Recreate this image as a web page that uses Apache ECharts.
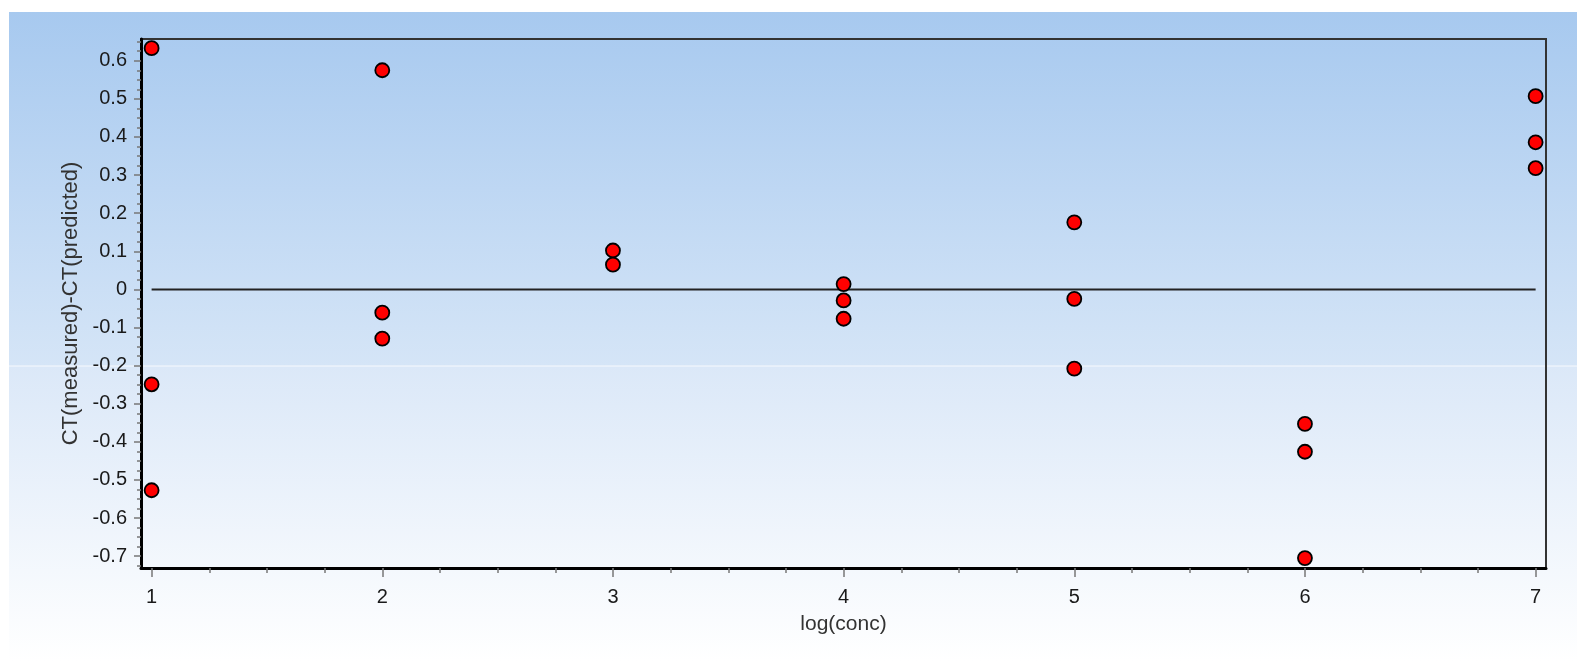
<!DOCTYPE html>
<html>
<head>
<meta charset="utf-8">
<script src="https://cdn.jsdelivr.net/npm/echarts@6/dist/echarts.min.js"></script>
<style>
html,body{margin:0;padding:0;background:#fff;}
#chart{width:1577px;height:661px;}
</style>
</head>
<body>
<div id="chart"></div>
<script>
// ---- data ----
var logConc   = [1, 1, 1, 2, 2, 2, 3, 3, 4, 4, 4, 5, 5, 5, 6, 6, 6, 7, 7, 7];
var residuals = [0.633, -0.249, -0.527, 0.575, -0.061, -0.129, 0.102, 0.065, 0.014, -0.029, -0.077,
                 0.176, -0.025, -0.208, -0.353, -0.426, -0.705, 0.507, 0.386, 0.318];
var zeroLineX = [1, 7];
var xTickLabels = [1, 2, 3, 4, 5, 6, 7];
var yTickLabels = [0.6, 0.5, 0.4, 0.3, 0.2, 0.1, 0, -0.1, -0.2, -0.3, -0.4, -0.5, -0.6, -0.7];

var X_MIN = 0.954, X_MAX = 7.045, Y_MIN = -0.731, Y_MAX = 0.657;

// minor tick positions (quarters between major ticks)
var xMinor = [];
for (var i = 4; i <= 28; i++) { if (i % 4 !== 0) xMinor.push(i / 4); }
var yMinor = [];
for (var k = -29; k <= 26; k++) { if (k % 4 !== 0) yMinor.push(+(k * 0.025).toFixed(4)); }

var pts = logConc.map(function (x, i) { return [x, residuals[i]]; });
var FONT = 'Liberation Sans, Arial, sans-serif';

var chart = echarts.init(document.getElementById('chart'), null, {renderer: 'canvas'});
chart.setOption({
  animation: false,
  backgroundColor: '#ffffff',
  graphic: [
    {type: 'rect', z: -100, silent: true, shape: {x: 9, y: 12, width: 1568, height: 354},
     style: {fill: new echarts.graphic.LinearGradient(0, 0, 0, 1, [
       {offset: 0, color: '#a7c9ef'}, {offset: 1, color: '#d5e5f7'}])}},
    {type: 'rect', z: -100, silent: true, shape: {x: 9, y: 366, width: 1568, height: 295},
     style: {fill: new echarts.graphic.LinearGradient(0, 0, 0, 1, [
       {offset: 0, color: '#dbe8f8'}, {offset: 1, color: '#ffffff'}])}},
    {type: 'rect', z: -99, silent: true, shape: {x: 9, y: 365.5, width: 1568, height: 1},
     style: {fill: 'rgba(255,255,255,0.8)'}}
  ],
  grid: {left: 141, top: 39, right: 31, bottom: 93, show: true,
         borderColor: '#333', borderWidth: 2, backgroundColor: 'transparent'},
  xAxis: [
    {type: 'value', min: X_MIN, max: X_MAX, position: 'bottom',
     axisLine: {show: true, onZero: false, lineStyle: {color: '#000', width: 3}},
     axisTick: {show: true, customValues: xTickLabels, length: 9, lineStyle: {color: '#777', width: 1.5}},
     axisLabel: {customValues: xTickLabels, margin: 19, fontSize: 20, color: '#1a1a1a', fontFamily: FONT},
     splitLine: {show: false},
     name: 'log(conc)', nameLocation: 'middle', nameGap: 46,
     nameTextStyle: {fontSize: 21, color: '#333', fontFamily: FONT}},
    {type: 'value', min: X_MIN, max: X_MAX, position: 'bottom',
     axisLine: {show: false, onZero: false},
     axisTick: {show: true, customValues: xMinor, length: 5, lineStyle: {color: '#777', width: 1.5}},
     axisLabel: {show: false}, splitLine: {show: false}}
  ],
  yAxis: [
    {type: 'value', min: Y_MIN, max: Y_MAX, position: 'left',
     axisLine: {show: true, onZero: false, lineStyle: {color: '#000', width: 3}},
     axisTick: {show: true, customValues: yTickLabels, length: 7, lineStyle: {color: '#777', width: 1.5}},
     axisLabel: {customValues: yTickLabels, margin: 14, fontSize: 20, color: '#1a1a1a', fontFamily: FONT,
                 formatter: function (v) { return Math.abs(v) < 1e-9 ? '0' : String(+v.toFixed(1)); }},
     splitLine: {show: false},
     name: 'CT(measured)-CT(predicted)', nameLocation: 'middle', nameGap: 59,
     nameTextStyle: {fontSize: 22, color: '#333', fontFamily: FONT}},
    {type: 'value', min: Y_MIN, max: Y_MAX, position: 'left',
     axisLine: {show: false, onZero: false},
     axisTick: {show: true, customValues: yMinor, length: 4, lineStyle: {color: '#777', width: 1.5}},
     axisLabel: {show: false}, splitLine: {show: false}}
  ],
  series: [
    {type: 'line', xAxisIndex: 0, yAxisIndex: 0, z: 1, symbol: 'none', silent: true,
     data: zeroLineX.map(function (x) { return [x, 0]; }),
     lineStyle: {color: '#222', width: 2}},
    {type: 'scatter', xAxisIndex: 0, yAxisIndex: 0, z: 3, symbol: 'circle', symbolSize: 14,
     data: pts, itemStyle: {color: '#ff0000', borderColor: '#000', borderWidth: 1.8, opacity: 1}}
  ]
});
</script>
</body>
</html>
